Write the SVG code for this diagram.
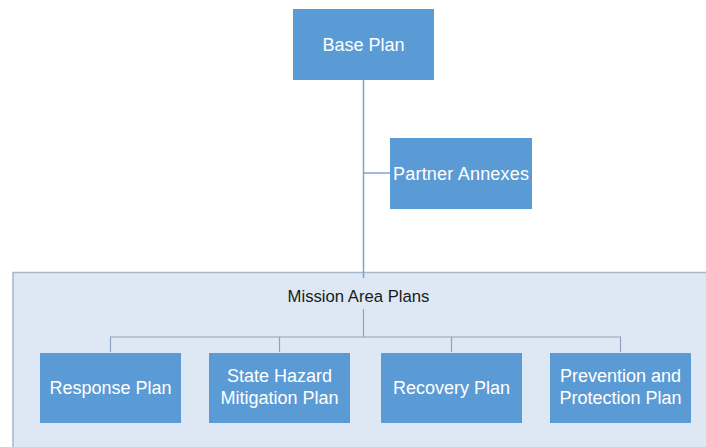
<svg xmlns="http://www.w3.org/2000/svg" width="706" height="447" viewBox="0 0 706 447">
  <style>
    .box { fill: #5b9bd5; }
    .label { font-family: "Liberation Sans", Arial, sans-serif; font-size: 18px; fill: #ffffff; text-anchor: middle; }
    .title { font-family: "Liberation Sans", Arial, sans-serif; font-size: 16.7px; fill: #1a1a1a; text-anchor: middle; }
    .main { stroke: #7fa3cf; stroke-width: 1.5; fill: none; }
    .branch { stroke: #8ea3bd; stroke-width: 1.2; fill: none; }
  </style>
  <rect width="706" height="447" fill="#ffffff"/>

  <!-- mission area container -->
  <g id="mission-area">
    <rect x="13" y="272.5" width="700" height="190" fill="#dee8f4" stroke="#a7b7c9" stroke-width="1.5"/>
    <text class="title" x="358.5" y="302">Mission Area Plans</text>
  </g>

  <!-- connectors -->
  <g id="connectors">
    <path class="main" d="M363.5 80 V278"/>
    <path class="main" d="M363.5 173 H390"/>
    <path class="branch" d="M363.5 309 V337"/>
    <path class="branch" d="M110.5 352 V337 H620.5 V352"/>
    <path class="branch" d="M279.5 337 V352"/>
    <path class="branch" d="M451.5 337 V352"/>
  </g>

  <g id="base-plan">
    <rect class="box" x="293" y="9" width="141" height="71"/>
    <text class="label" x="363.5" y="51">Base Plan</text>
  </g>

  <g id="partner-annexes">
    <rect class="box" x="390" y="138" width="142" height="71"/>
    <text class="label" x="461" y="180" textLength="136">Partner Annexes</text>
  </g>

  <g id="response-plan">
    <rect class="box" x="40" y="353" width="141" height="70"/>
    <text class="label" x="110.5" y="394">Response Plan</text>
  </g>

  <g id="state-hazard-mitigation-plan">
    <rect class="box" x="209" y="353" width="141" height="70"/>
    <text class="label" x="279.5" y="382">State Hazard</text>
    <text class="label" x="279.5" y="404">Mitigation Plan</text>
  </g>

  <g id="recovery-plan">
    <rect class="box" x="381" y="353" width="141" height="70"/>
    <text class="label" x="451.5" y="394">Recovery Plan</text>
  </g>

  <g id="prevention-protection-plan">
    <rect class="box" x="550" y="353" width="141" height="70"/>
    <text class="label" x="620.5" y="382">Prevention and</text>
    <text class="label" x="620.5" y="404">Protection Plan</text>
  </g>
</svg>
